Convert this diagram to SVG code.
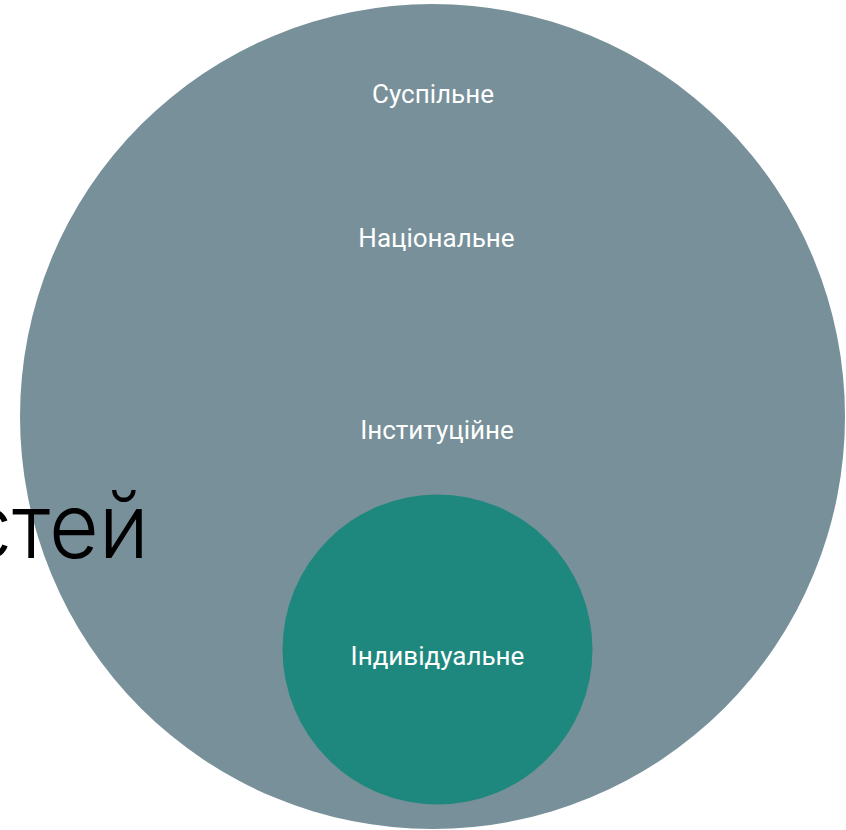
<svg xmlns="http://www.w3.org/2000/svg" width="846" height="830" viewBox="0 0 846 830">
<style>
.lbl{font-family:Roboto,"Liberation Sans",sans-serif;font-size:26px;fill:#ffffff;text-anchor:middle}
.big{font-family:Inter,"Open Sans","Liberation Sans",sans-serif;font-weight:300;font-size:90px;fill:#000000}
</style>
<rect width="846" height="830" fill="#ffffff"/>
<g id="outer">
<circle cx="432.5" cy="416.5" r="412.5" fill="#78909a"/>
<text class="lbl" x="433" y="103">Суспільне</text>
<text class="lbl" x="436.5" y="247">Національне</text>
<text class="lbl" x="437" y="439">Інституційне</text>
</g>
<g id="title">
<text class="big" x="-36" y="558" textLength="185" lengthAdjust="spacingAndGlyphs">стей</text>
</g>
<g id="inner">
<circle cx="437.5" cy="649.5" r="155" fill="#1f887e"/>
<text class="lbl" x="437.5" y="665">Індивідуальне</text>
</g>
<g id="connectors"/>
</svg>
